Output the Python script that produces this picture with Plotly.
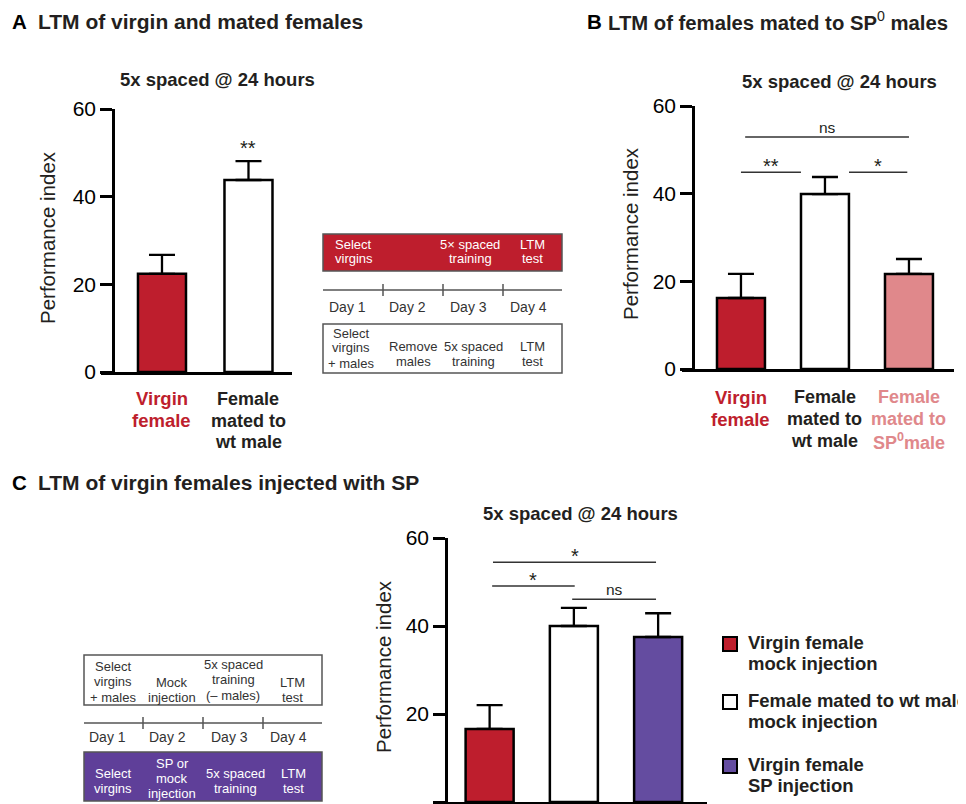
import plotly.graph_objects as go

# The page body adds an 8 px margin, so the figure is sized and positioned
# so that screen pixel coordinates match the reference.
OFF = 8
W, H = 966 - OFF, 804 - OFF


def px(x):
    return (x - OFF) / W


def py(y):
    return 1 - (y - OFF) / H


FONT = "Liberation Sans, Arial, Helvetica, sans-serif"
RED = "#be1e2d"
PINK = "#e0888b"
PURPLE = "#644ca0"
PURPLE_BOX = "#5f3f99"
DARK = "#231f20"
GRAY = "#555555"

# ---------------- data ----------------
cats_a = ["Virgin female", "Female mated to wt male"]
mean_a = [22.4, 43.8]
sem_a = [4.3, 4.3]
colors_a = [RED, "white"]

cats_b = ["Virgin female", "Female mated to wt male", "Female mated to SP0 male"]
mean_b = [16.2, 39.9, 21.7]
sem_b = [5.5, 3.9, 3.4]
colors_b = [RED, "white", PINK]

cats_c = ["Virgin female<br>mock injection",
          "Female mated to wt male<br>mock injection",
          "Virgin female<br>SP injection"]
mean_c = [16.6, 40.0, 37.5]
sem_c = [5.4, 4.1, 5.4]
colors_c = [RED, "white", PURPLE]

yticks = [0, 20, 40, 60]

# significance: (x0, x1, y, label)
sig_a = [(1.0, 1.0, 51.1, "**")]
sig_b = [(0.05, 2.0, 52.9, "ns"), (0.0, 0.714, 44.9, "**"), (1.286, 1.98, 44.9, "*")]
sig_c = [(0.04, 1.975, 54.5, "*"), (0.03, 1.01, 49.1, "*"), (0.98, 1.975, 46.1, "ns")]

fig = go.Figure()

err_style = dict(type="data", symmetric=False, color="black", thickness=2.3, width=13)
line_style = dict(color="black", width=2.5)

fig.add_trace(go.Bar(x=cats_a, y=mean_a, width=0.555,
                     marker=dict(color=colors_a, line=line_style),
                     error_y=dict(array=sem_a, arrayminus=[0] * len(sem_a), **err_style),
                     xaxis="x", yaxis="y", showlegend=False, hoverinfo="skip"))
fig.add_trace(go.Bar(x=cats_b, y=mean_b, width=0.571,
                     marker=dict(color=colors_b, line=line_style),
                     error_y=dict(array=sem_b, arrayminus=[0] * len(sem_b), **err_style),
                     xaxis="x2", yaxis="y2", showlegend=False, hoverinfo="skip"))
fig.add_trace(go.Bar(x=cats_c, y=mean_c, width=0.57,
                     marker=dict(color=colors_c, line=line_style),
                     error_y=dict(array=sem_c, arrayminus=[0] * len(sem_c), **err_style),
                     xaxis="x3", yaxis="y3", showlegend=False, hoverinfo="skip"))


def xax(dom, rng, cats, anchor):
    return dict(domain=[px(dom[0]), px(dom[1])], range=rng, anchor=anchor,
                showline=True, linecolor="black", linewidth=2.5, ticks="",
                showticklabels=False, showgrid=False, zeroline=False,
                categoryorder="array", categoryarray=cats, fixedrange=True)


def yax(dom, pos):
    return dict(domain=[py(dom[0]), py(dom[1])], range=[0, 60], anchor="free",
                position=px(pos), showline=True, linecolor="black", linewidth=2.5,
                ticks="outside", ticklen=12, tickwidth=2.5, tickcolor="black",
                tickvals=yticks, tickfont=dict(family=FONT, size=21, color="black"),
                showgrid=False, zeroline=False, fixedrange=True)


fig.update_layout(
    width=W, height=H, margin=dict(l=0, r=0, t=0, b=0, autoexpand=False),
    paper_bgcolor="white", plot_bgcolor="rgba(0,0,0,0)",
    barmode="overlay", font=dict(family=FONT, color=DARK), showlegend=False,
    xaxis=xax((101, 292), [-0.705, 1.503], cats_a, "y"),
    yaxis=yax((372, 109), 113),
    xaxis2=xax((682, 954), [-0.702, 2.536], cats_b, "y2"),
    yaxis2=yax((369, 106), 693),
    xaxis3=xax((433, 707), [-0.672, 2.58], cats_c, "y3"),
    yaxis3=yax((802, 538), 446),
)


def txt(t, x, y, size, color=DARK, weight="normal", xanchor="center", xref="paper",
        yref="paper", angle=0):
    fig.add_annotation(x=x, y=y, xref=xref, yref=yref, text=t, showarrow=False,
                       xanchor=xanchor, yanchor="middle", textangle=angle,
                       font=dict(family=FONT, size=size, color=color, weight=weight))


def lines(ls, xc, y0, dy, size, color, weight="normal", xanchor="center", xref="paper"):
    for i, t in enumerate(ls):
        x = xc if xref != "paper" else px(xc)
        txt(t, x, py(y0 + i * dy), size, color, weight, xanchor, xref)


# panel titles
txt("A", px(10), py(21), 20.5, "black", "bold", "left")
txt("LTM of virgin and mated females", px(36), py(21), 21, DARK, "bold", "left")
txt("B", px(585), py(21), 20.5, "black", "bold", "left")
txt("<b>LTM of females mated to SP</b><sup>0</sup><b> males</b>", px(606), py(21), 20.3, DARK,
    "normal", "left")
txt("C", px(10), py(483), 20.5, "black", "bold", "left")
txt("LTM of virgin females injected with SP", px(36), py(483), 21, DARK, "bold", "left")

# subtitles
for xc, yc in [(217, 80), (839, 81), (580, 513)]:
    txt("5x spaced @ 24 hours", px(xc), py(yc), 18.5, DARK, "bold")

# y titles
for xc, yc in [(48, 238), (630, 234), (383, 667)]:
    txt("Performance index", px(xc), py(yc), 20.5, DARK, "normal", angle=-90)

# category labels
lines(["Virgin", "female"], cats_a[0], 399, 21.5, 18.5, RED, "bold", xref="x")
lines(["Female", "mated to", "wt male"], cats_a[1], 399, 21.5, 18, DARK, "bold", xref="x")
lines(["Virgin", "female"], cats_b[0], 397, 22, 18.5, RED, "bold", xref="x2")
lines(["Female", "mated to", "wt male"], cats_b[1], 397, 22, 18, DARK, "bold", xref="x2")
lines(["Female", "mated to", "SP<sup>0</sup>male"], cats_b[2], 397, 22, 18, PINK, "bold", xref="x2")


# significance
def sig(lst, xr, yr):
    for x0, x1, y, lab in lst:
        if x1 > x0:
            fig.add_shape(type="line", xref=xr, yref=yr, x0=x0, x1=x1, y0=y, y1=y,
                          line=dict(color="#333333", width=1.5))
            shift = 10 if lab == "ns" else 6
        else:
            shift = 0
        fig.add_annotation(x=(x0 + x1) / 2, y=y, xref=xr, yref=yr, text=lab, showarrow=False,
                           yanchor="middle", yshift=shift,
                           font=dict(family=FONT, size=15.5 if lab == "ns" else 20, color=DARK))


sig(sig_a, "x", "y")
sig(sig_b, "x2", "y2")
sig(sig_c, "x3", "y3")

# legend for panel C (one entry per C bar)
leg_top = [637, 695, 759]
for name, col, top in zip(cats_c, colors_c, leg_top):
    fig.add_shape(type="rect", xref="paper", yref="paper", x0=px(723), x1=px(737),
                  y0=py(top + 14), y1=py(top), fillcolor=col,
                  line=dict(color="black", width=2))
    lines(name.split("<br>"), 746, top + 5, 21.5, 18.5, DARK, "bold", xanchor="left")


# ---------------- protocol diagrams ----------------
def rect(x0, y0, x1, y1, fill):
    fig.add_shape(type="rect", xref="paper", yref="paper", x0=px(x0), x1=px(x1),
                  y0=py(y1), y1=py(y0), fillcolor=fill, line=dict(color=GRAY, width=1.5),
                  layer="below")


def hline(x0, x1, y):
    fig.add_shape(type="line", xref="paper", yref="paper", x0=px(x0), x1=px(x1),
                  y0=py(y), y1=py(y), line=dict(color=GRAY, width=1.5))


def vline(x, y0, y1):
    fig.add_shape(type="line", xref="paper", yref="paper", x0=px(x), x1=px(x),
                  y0=py(y0), y1=py(y1), line=dict(color=GRAY, width=1.5))


days = ["Day 1", "Day 2", "Day 3", "Day 4"]

# Diagram A
rect(323, 234, 562, 271, RED)
lines(["Select", "virgins"], 333, 244, 15, 13, "white", xanchor="left")
lines(["5× spaced", "training"], 470, 244, 15, 13, "white")
lines(["LTM", "test"], 532, 244, 15, 13, "white")
hline(323, 562, 290)
for xt in [383, 443, 503]:
    vline(xt, 284, 296)
for d, xc in zip(days, [347, 407, 468, 528]):
    txt(d, px(xc), py(307), 14, "#333333")
rect(323, 324, 562, 373, "white")
lines(["Select", "virgins", "+ males"], 351, 333, 15, 13, "#333333")
lines(["Remove", "males"], 413, 346, 15, 13, "#333333")
lines(["5x spaced", "training"], 473, 346, 15, 13, "#333333")
lines(["LTM", "test"], 532, 346, 15, 13, "#333333")

# Diagram C
rect(84, 655, 322, 705, "white")
lines(["Select", "virgins", "+ males"], 113, 666, 15.5, 13, "#333333")
lines(["Mock", "injection"], 172, 682, 15, 13, "#333333")
lines(["5x spaced", "training", "(– males)"], 233, 664, 15.5, 13, "#333333")
lines(["LTM", "test"], 292, 682, 15, 13, "#333333")
hline(84, 322, 723)
for xt in [143, 203, 263]:
    vline(xt, 717, 729)
for d, xc in zip(days, [107, 167, 229, 288]):
    txt(d, px(xc), py(737), 14, "#333333")
rect(84, 752, 322, 801, PURPLE_BOX)
lines(["Select", "virgins"], 113, 773, 15, 13, "white")
lines(["SP or", "mock", "injection"], 172, 763, 15, 13, "white")
lines(["5x spaced", "training"], 235, 773, 15, 13, "white")
lines(["LTM", "test"], 293, 773, 15, 13, "white")

fig.write_html("out.html")
